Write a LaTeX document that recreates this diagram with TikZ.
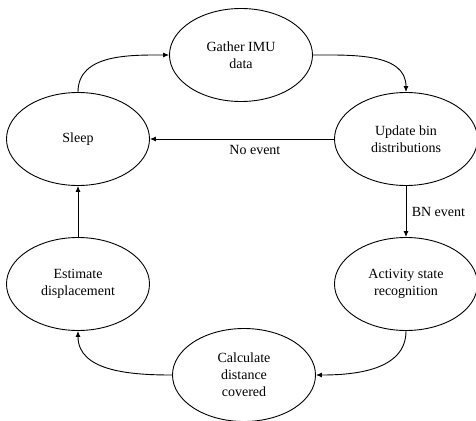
\documentclass[tikz,border=0pt]{standalone}
\usepackage{fontspec}
\setmainfont{Liberation Serif}
\usetikzlibrary{arrows.meta,positioning,shapes.geometric}
\tikzset{
  statenode/.style={ellipse, draw=black, line width=0.9pt, align=center, inner sep=0pt, minimum width=143pt, minimum height=93pt, font=\fontsize{14}{17}\selectfont},
  arrow/.style={-{Latex[length=6pt,width=5pt]}, line width=0.9pt, draw=black},
  lbl/.style={font=\fontsize{14}{17}\selectfont}
}

\begin{document}
\begin{tikzpicture}[x=1pt, y=-1pt]
\useasboundingbox (0,0) rectangle (476,420);
\node[statenode] (gather) at (241,55) {Gather IMU\\data};
\node[statenode] (sleep) at (78,139) {Sleep};
\node[statenode] (update) at (406,139) {Update bin\\distributions};
\node[statenode] (estimate) at (78,284) {Estimate\\displacement};
\node[statenode] (activity) at (406,284) {Activity state\\recognition};
\node[statenode] (calc) at (244,375) {Calculate\\distance\\covered};

\draw[arrow] (sleep.north) to[out=90, in=180] (gather.west);
\draw[arrow] (gather.east) to[out=0, in=90] (update.north);
\draw[arrow] (update.west) -- node[lbl, pos=0.43, below=3pt] {No event} (sleep.east);
\draw[arrow] (update.south) -- node[lbl, right=2pt] {BN event} (activity.north);
\draw[arrow] (activity.south) to[out=-90, in=0] (calc.east);
\draw[arrow] (calc.west) to[out=180, in=-90] (estimate.south);
\draw[arrow] (estimate.north) -- (sleep.south);
\end{tikzpicture}
\end{document}
